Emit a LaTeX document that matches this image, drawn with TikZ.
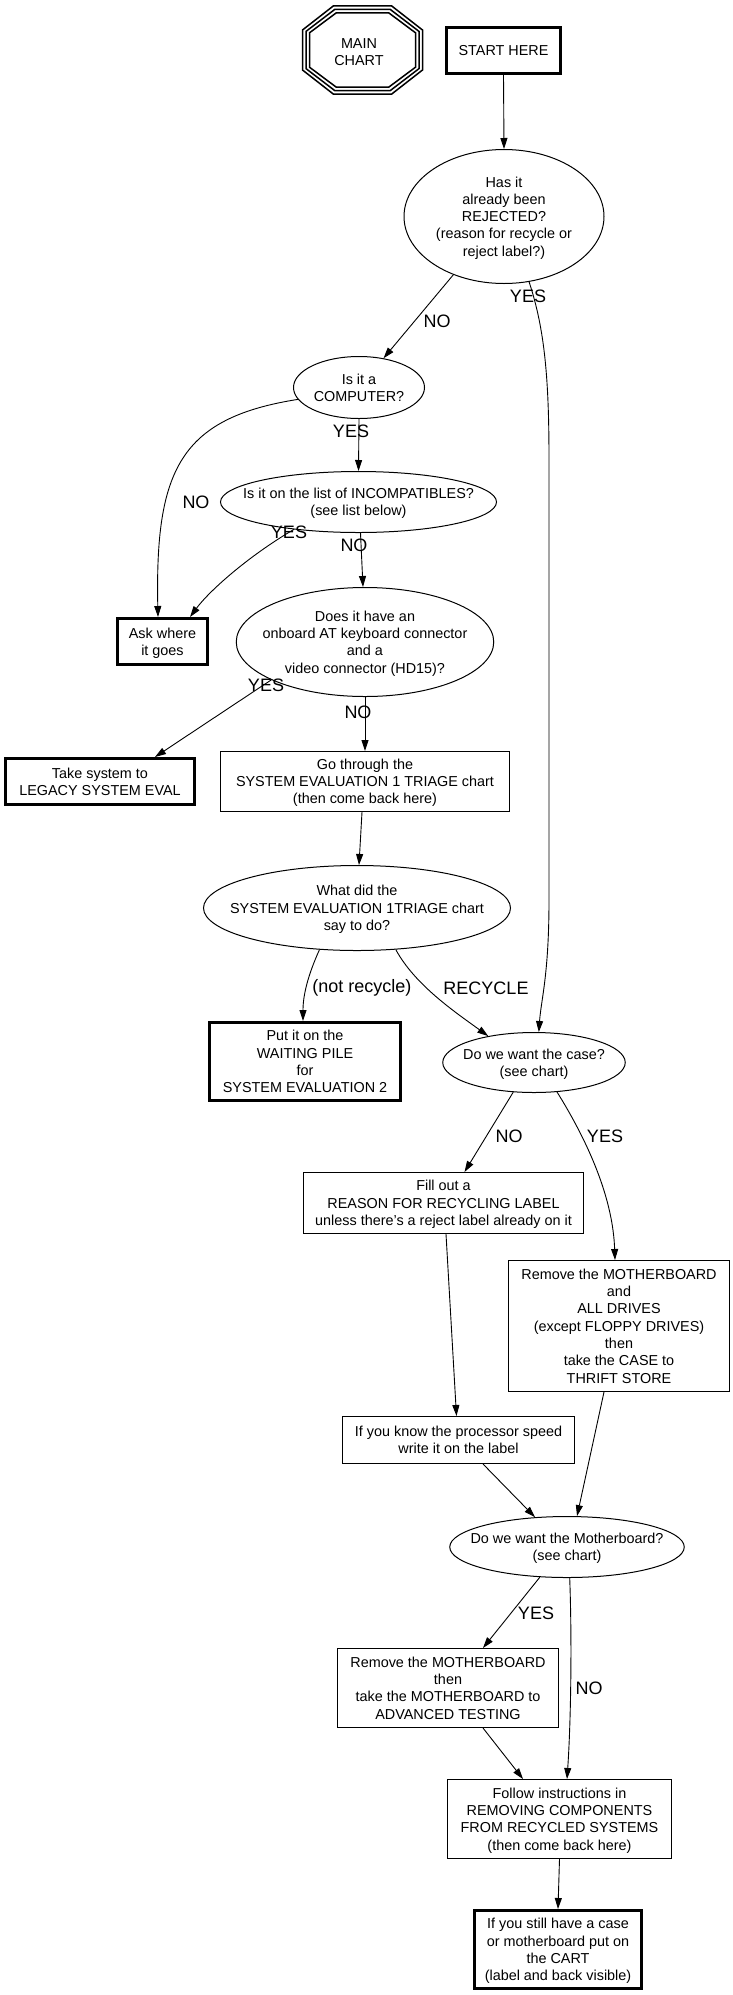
\documentclass[tikz,border=0pt]{standalone}
\usepackage{fontspec}
\setmainfont{Liberation Sans}
\usetikzlibrary{shapes.geometric,arrows.meta,calc}
\newcommand\mytab[1]{\raisebox{-1.7pt}[\height][\depth]{\begin{tabular}{@{}c@{}}#1\end{tabular}}}
\newcommand\ztab[1]{\makebox[0pt]{\mytab{#1}}}
\newcommand\octo[6]{% cx cy a b c d
  \draw[octline] (#1-#5,#2-#4) -- (#1+#5,#2-#4) -- (#1+#3,#2-#6) -- (#1+#3,#2+#6)
    -- (#1+#5,#2+#4) -- (#1-#5,#2+#4) -- (#1-#3,#2+#6) -- (#1-#3,#2-#6) -- cycle;}
\begin{document}
\begin{tikzpicture}[x=1pt,y=-1pt,
  nodefont/.style={font=\fontsize{14.4}{17.3}\selectfont},
  box/.style={draw, rectangle, inner sep=0pt, line width=1pt, nodefont},
  bbox/.style={draw, rectangle, inner sep=0pt, line width=3pt, nodefont},
  ell/.style={draw, ellipse, inner sep=0pt, line width=1pt, nodefont},
  lab/.style={inner sep=0pt, font=\fontsize{18}{21.6}\selectfont},
  edge/.style={draw, line width=0.9pt, -{Triangle[length=11pt,width=7pt]}},
  octline/.style={line width=1.5pt, line join=miter}]
\fill[white] (0,0) rectangle (732,1995);
\useasboundingbox (0,0) rectangle (732,1995);

% main chart octagon
\octo{362.5}{50}{60}{44.2}{29}{20}
\octo{362.5}{50}{56.5}{40.7}{27.6}{18.6}
\octo{362.5}{50}{53}{37.2}{26.2}{17.2}
\node[nodefont, inner sep=0pt] (main) at (359,52) {\mytab{MAIN\\CHART}};

% nodes
\node[bbox, minimum width=114pt, minimum height=46pt] (start) at (503.5,50.5) {\mytab{START HERE}};
\node[ell, minimum width=200pt, minimum height=134pt] (has) at (504,216.5)
  {\ztab{Has it\\already been\\REJECTED?\\(reason for recycle or\\reject label?)}};
\node[ell, minimum width=131pt, minimum height=62pt] (comp) at (359,387.5) {\ztab{Is it a\\COMPUTER?}};
\node[ell, minimum width=276pt, minimum height=61pt] (inc) at (358.5,502)
  {\ztab{Is it on the list of INCOMPATIBLES?\\(see list below)}};
\node[bbox, minimum width=90pt, minimum height=46pt] (ask) at (162.5,641.5) {\mytab{Ask where\\it goes}};
\node[ell, minimum width=257.5pt, minimum height=109pt] (does) at (365,642)
  {\ztab{Does it have an\\onboard AT keyboard connector\\and a\\video connector (HD15)?}};
\node[bbox, minimum width=189pt, minimum height=46pt] (take) at (100,781.5) {\mytab{Take system to\\LEGACY SYSTEM EVAL}};
\node[box, minimum width=288.5pt, minimum height=60pt] (go) at (365,781.5)
  {\mytab{Go through the\\SYSTEM EVALUATION 1 TRIAGE chart\\(then come back here)}};
\node[ell, minimum width=307pt, minimum height=85pt] (what) at (357,908)
  {\ztab{What did the\\SYSTEM EVALUATION 1TRIAGE chart\\say to do?}};
\node[bbox, minimum width=191pt, minimum height=78pt] (put) at (305,1061.5)
  {\mytab{Put it on the\\WAITING PILE\\for\\SYSTEM EVALUATION 2}};
\node[ell, minimum width=182.5pt, minimum height=60pt] (case) at (534,1062.5)
  {\ztab{Do we want the case?\\(see chart)}};
\node[box, minimum width=280pt, minimum height=61pt] (fill) at (443.5,1203)
  {\mytab{Fill out a\\REASON FOR RECYCLING LABEL\\unless there's a reject label already on it}};
\node[box, minimum width=221.5pt, minimum height=131pt] (remove) at (619,1326)
  {\mytab{Remove the MOTHERBOARD\\and\\ALL DRIVES\\(except FLOPPY DRIVES)\\then\\take the CASE to\\THRIFT STORE}};
\node[box, minimum width=232pt, minimum height=47pt] (ifk) at (458.5,1440)
  {\mytab{If you know the processor speed\\write it on the label}};
\node[ell, minimum width=234.5pt, minimum height=61pt] (mb) at (567,1547)
  {\ztab{Do we want the Motherboard?\\(see chart)}};
\node[box, minimum width=221pt, minimum height=79pt] (rmb) at (448,1688)
  {\mytab{Remove the MOTHERBOARD\\then\\take the MOTHERBOARD to\\ADVANCED TESTING}};
\node[box, minimum width=224pt, minimum height=79pt] (follow) at (559.5,1819)
  {\mytab{Follow instructions in\\REMOVING COMPONENTS\\FROM RECYCLED SYSTEMS\\(then come back here)}};
\node[bbox, minimum width=167pt, minimum height=78pt] (final) at (558,1949.5)
  {\mytab{If you still have a case\\or motherboard put on\\the CART\\(label and back visible)}};

% edges
\draw[edge] (start.south) -- (has.north);
\draw[edge] (has.229) -- (comp.50);
\draw[edge] (has.291) .. controls (545,330) and (549,380) .. (549,460) -- (549,900)
  .. controls (549,975) and (541,1000) .. (case.81);
\draw[edge] (comp.south) -- (inc.north);
\draw[edge] (comp.191) .. controls (180,418) and (155,470) .. ([xshift=-4.5pt]ask.north);
\draw[edge] (inc.203) .. controls (250,555) and (210,590) .. ([xshift=27.5pt]ask.north);
\draw[edge] ([xshift=2pt]inc.south) -- ([xshift=-2pt]does.north);
\draw[edge] (does.202) -- ([xshift=55pt]take.north);
\draw[edge] (does.south) -- (go.north);
\draw[edge] ([xshift=-3pt]go.south) -- ([xshift=2pt]what.north);
\draw[edge] (what.228) .. controls (308,975) and (303,995) .. ([xshift=-2pt]put.north);
\draw[edge] (what.313) .. controls (415,985) and (455,1012) .. (case.150);
\draw[edge] (case.235) -- ([xshift=21pt]fill.north);
\draw[edge] (case.308) .. controls (590,1145) and (613,1200) .. ([xshift=-4pt]remove.north);
\draw[edge] ([xshift=2.5pt]fill.south) -- ([xshift=-2pt]ifk.north);
\draw[edge] ([xshift=24.5pt]ifk.south) -- (mb.137);
\draw[edge] ([xshift=-15pt]remove.south) -- (mb.72);
\draw[edge] (mb.228) -- ([xshift=35pt]rmb.north);
\draw[edge] (mb.275) .. controls (572,1640) and (571,1720) .. ([xshift=7.5pt]follow.north);
\draw[edge] ([xshift=35pt]rmb.south) -- ([xshift=-36.5pt]follow.north);
\draw[edge] (follow.south) -- (final.north);

% edge labels
\node[lab] (l1) at (437,321) {NO};
\node[lab] (l2) at (528,296) {YES};
\node[lab] (l3) at (351,431) {YES};
\node[lab] (l4) at (196,502) {NO};
\node[lab] (l5) at (289,532) {YES};
\node[lab] (l6) at (354,545) {NO};
\node[lab] (l7) at (266,685) {YES};
\node[lab] (l8) at (358,712) {NO};
\node[lab] (l9) at (362,988) {(not recycle)};
\node[lab] (l10) at (486,988) {RECYCLE};
\node[lab] (l11) at (509,1136) {NO};
\node[lab] (l12) at (605,1136) {YES};
\node[lab] (l13) at (536,1613) {YES};
\node[lab] (l14) at (589,1688) {NO};
\end{tikzpicture}
\end{document}
